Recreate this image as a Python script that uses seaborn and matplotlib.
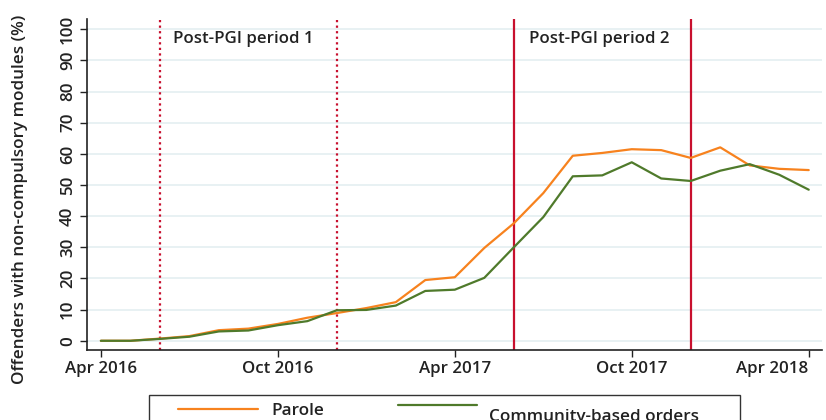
import matplotlib
matplotlib.use("Agg")
import matplotlib.pyplot as plt
import matplotlib.transforms as mtrans
from matplotlib.lines import Line2D
from matplotlib.patches import Rectangle
import seaborn as sns
import pandas as pd

months = list(range(25))
tick_pos = [0, 6, 12, 18, 24]
tick_labels = ["Apr 2016", "Oct 2016", "Apr 2017", "Oct 2017", "Apr 2018"]
parole = [0.0, 0.0, 0.7, 1.5, 3.4, 3.9, 5.4, 7.4, 8.9, 10.5, 12.4, 19.5, 20.4,
          29.8, 37.7, 47.4, 59.4, 60.3, 61.5, 61.2, 58.7, 62.1, 56.3, 55.2, 54.8]
community = [0.0, 0.0, 0.6, 1.3, 3.0, 3.3, 5.0, 6.3, 9.8, 9.9, 11.3, 16.0, 16.4,
             20.2, 30.0, 39.7, 52.8, 53.1, 57.3, 52.1, 51.3, 54.6, 56.7, 53.3, 48.5]
period1 = [2, 8]
period2 = [14, 20]
period_labels = ["Post-PGI period 1", "Post-PGI period 2"]
series_names = ["Parole", "Community-based orders"]
colors = ["#f7821e", "#4f7a2b"]

df = pd.DataFrame({
    "month": months * 2,
    "value": parole + community,
    "group": [series_names[0]] * 25 + [series_names[1]] * 25,
})

sns.set_theme(style="white")
plt.rcParams["font.family"] = ["Open Sans", "DejaVu Sans"]

W, H = 826, 420
fig = plt.figure(figsize=(W / 100, H / 100), dpi=100)
ax = fig.add_axes([87 / W, 1 - 349.5 / H, (822 - 87) / W, (349.5 - 19) / H])

red = "#c8102e"
for x in period1:
    ax.axvline(x, color=red, lw=1.6, ls=(0, (1, 1.5)), zorder=1)
for x in period2:
    ax.axvline(x, color=red, lw=1.6, ls="-", zorder=1)

sns.lineplot(data=df, x="month", y="value", hue="group",
             palette=colors, lw=1.6, ax=ax, legend=False, zorder=3)

txt = "#222222"
fs = 12.2
wt = "semibold"
ax.set_xlim(-0.47, 24.45)
ax.set_ylim(-2.8, 103.3)
ax.set_yticks(range(0, 101, 10))
ax.set_yticklabels([str(v) for v in range(0, 101, 10)], rotation=90, va="center",
                   fontsize=fs, color=txt, fontweight=wt)
ax.set_xticks(tick_pos)
ax.set_xticklabels(tick_labels, fontsize=fs, color=txt, fontweight=wt)
last = ax.get_xticklabels()[-1]
last.set_horizontalalignment("right")
last.set_transform(last.get_transform() + mtrans.ScaledTranslation(14 / 100, 0, fig.dpi_scale_trans))
ax.tick_params(axis="both", direction="out", length=5, width=1, color=txt,
               left=True, bottom=True, pad=3)
ax.grid(axis="y", color="#e6f0f2", lw=1.3)
ax.grid(axis="x", visible=False)
for s in ["top", "right"]:
    ax.spines[s].set_visible(False)
for s in ["left", "bottom"]:
    ax.spines[s].set_color(txt)
    ax.spines[s].set_linewidth(1.2)
ax.set_xlabel("")
ax.set_ylabel("Offenders with non-compulsory modules (%)", fontsize=12.3,
              fontweight=wt, color=txt, va="center")
ax.yaxis.set_label_coords((20 - 87) / 735, (349.5 - 199) / 330.5)

ax.text(2.45, 96.8, period_labels[0], fontsize=fs, fontweight=wt,
        color=txt, va="center", ha="left")
ax.text(14.5, 97.0, period_labels[1], fontsize=fs, fontweight=wt,
        color=txt, va="center", ha="left")

# legend (drawn in figure pixels, mimicking the reference's boxed key)
def fx(px):
    return px / W

def fy(py):
    return 1 - py / H

fig.add_artist(Rectangle((fx(149), fy(440)), fx(740) - fx(149), fy(394.5) - fy(440),
                         transform=fig.transFigure, fill=False, edgecolor="#333333", lw=1.0))
fig.add_artist(Line2D([fx(178), fx(258)], [fy(408.7)] * 2, transform=fig.transFigure,
                      color=colors[0], lw=1.6))
fig.add_artist(Line2D([fx(398), fx(477)], [fy(404.7)] * 2, transform=fig.transFigure,
                      color=colors[1], lw=1.6))
fig.text(fx(271), fy(414.7), series_names[0], fontsize=12.3, fontweight=wt, color=txt,
         va="baseline", ha="left")
fig.text(fx(489), fy(421), series_names[1], fontsize=12.3, fontweight=wt, color=txt,
         va="baseline", ha="left")

fig.savefig("out.png", dpi=100)
